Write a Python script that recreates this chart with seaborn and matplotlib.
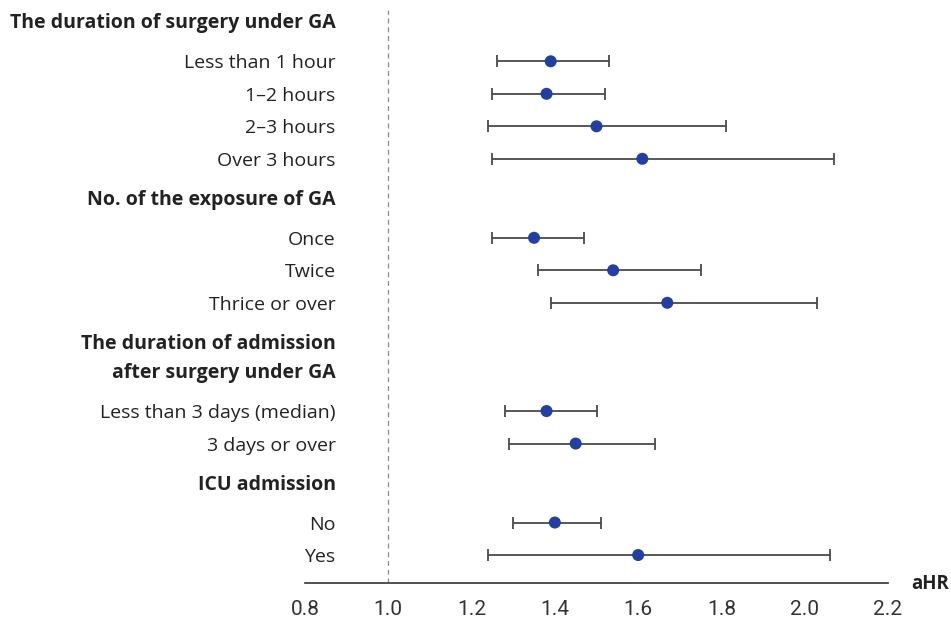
import matplotlib
matplotlib.use("Agg")
import matplotlib.pyplot as plt
import seaborn as sns
import pandas as pd

# filas del forest plot: encabezados (sin datos) y categorías
row_labels = [
    "The duration of surgery under GA",
    "Less than 1 hour", "1\u20132 hours", "2\u20133 hours", "Over 3 hours",
    "No. of the exposure of GA",
    "Once", "Twice", "Thrice or over",
    "The duration of admission\nafter surgery under GA",
    "Less than 3 days (median)", "3 days or over",
    "ICU admission",
    "No", "Yes",
]
is_header = [True, False, False, False, False,
             True, False, False, False,
             True, False, False,
             True, False, False]

# aHR y su IC 95% (None en encabezados)
ahr = [None, 1.39, 1.38, 1.50, 1.61,
       None, 1.35, 1.54, 1.67,
       None, 1.38, 1.45,
       None, 1.40, 1.60]
ci_low = [None, 1.26, 1.25, 1.24, 1.25,
          None, 1.25, 1.36, 1.39,
          None, 1.28, 1.29,
          None, 1.30, 1.24]
ci_high = [None, 1.53, 1.52, 1.81, 2.07,
           None, 1.47, 1.75, 2.03,
           None, 1.50, 1.64,
           None, 1.51, 2.06]

x_ticks = [0.8, 1.0, 1.2, 1.4, 1.6, 1.8, 2.0, 2.2]

# posiciones verticales: más espacio alrededor de los encabezados
pos = []
y = 0.0
prev = None
for lab, h in zip(row_labels, is_header):
    two = "\n" in lab
    if prev is not None:
        if h:
            y += 1.2 + (0.45 if two else 0)
        elif prev[0]:
            y += 1.23 + (0.45 if prev[1] else 0)
        else:
            y += 1.0
    pos.append(y)
    prev = (h, two)

df = pd.DataFrame({"label": row_labels, "header": is_header, "y": pos,
                   "ahr": ahr, "lo": ci_low, "hi": ci_high})
items = df[~df["header"]].astype({"ahr": float, "lo": float, "hi": float})

sns.set_style("white")
plt.rcParams["font.family"] = ["Open Sans", "DejaVu Sans"]

fig = plt.figure(figsize=(9.51, 6.21), dpi=100)
ax = fig.add_axes([0.3207, 0.0612, 0.6131, 0.9228])

ax.axvline(1.0, color="#8c8c8c", lw=0.9, ls=(0, (4, 3)), zorder=1)

ax.errorbar(items["ahr"], items["y"],
            xerr=[items["ahr"] - items["lo"], items["hi"] - items["ahr"]],
            fmt="none", ecolor="#4a4a4a", elinewidth=1.3, capsize=4.5,
            capthick=1.3, zorder=2)
sns.scatterplot(data=items, x="ahr", y="y", ax=ax, color="#2340a0",
                s=75, edgecolor="none", zorder=3, legend=False)

ax.set_xlim(0.8, 2.2)
ax.set_ylim(pos[-1] + 0.86, -0.35)
ax.set_xticks(x_ticks)
ax.set_xticklabels([f"{t:.1f}" for t in x_ticks], fontsize=15,
                   family="Roboto", color="#333333")
ax.tick_params(axis="x", direction="out", length=8, width=1.2,
               color="#333333", pad=4)
ax.set_yticks([])

# etiquetas de filas, alineadas a la derecha dentro del eje
for lab, h, yy in zip(row_labels, is_header, pos):
    ax.annotate(lab, xy=(0, yy), xycoords=("axes fraction", "data"),
                xytext=(22, -1.5), textcoords="offset points",
                ha="right", va="center", fontsize=14,
                fontweight="bold" if h else "normal",
                color="#222222", linespacing=1.55)

for s in ["top", "right", "left"]:
    ax.spines[s].set_visible(False)
ax.spines["bottom"].set_color("#333333")
ax.spines["bottom"].set_linewidth(1.2)
ax.set_xlabel("")
ax.set_ylabel("")

ax.annotate("aHR", xy=(1, 0), xycoords="axes fraction", xytext=(17, -1),
            textcoords="offset points", ha="left", va="center",
            fontsize=13.5, fontweight="bold", color="#222222")

fig.savefig("out.png", dpi=100)
